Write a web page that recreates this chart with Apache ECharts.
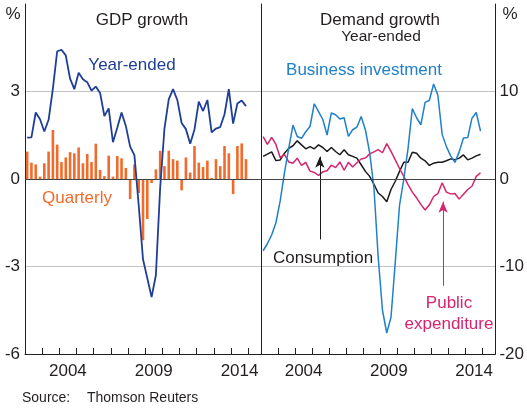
<!DOCTYPE html>
<html><head><meta charset="utf-8">
<script src="https://cdn.jsdelivr.net/npm/echarts@6/dist/echarts.min.js"></script>
<style>html,body{margin:0;padding:0;background:#fff}#c{width:527px;height:409px}</style>
</head><body><div id="c"></div>
<script>
// ---- data (quarterly, 2002Q1 .. 2014Q4) ----
const startYear = 2002;
const gdpYearEnded = [1.42,1.43,2.28,2.05,1.63,2.03,3.1,4.38,4.43,4.24,3.44,3.08,3.64,3.42,3.32,3.03,3.17,2.95,2.16,2.42,1.26,1.76,2.28,1.82,1.11,0.82,-0.9,-2.75,-3.4,-4.05,-3.3,-0.3,1.73,2.73,3.08,2.71,1.92,1.71,1.21,1.7,2.65,2.33,2.71,1.6,1.73,1.78,2.22,3.08,1.9,2.59,2.69,2.5];
const gdpQuarterly = [0.94,0.56,0.5,0.08,0.54,0.94,1.68,1.18,0.58,0.74,0.92,0.88,1.08,0.54,0.86,0.58,1.21,0.31,0.1,0.8,0.08,0.79,0.71,0.38,-0.69,0.5,-0.48,-2.1,-1.37,-0.14,0.33,0.97,0.44,0.97,0.68,0.63,-0.39,0.74,0.22,1.13,0.56,0.41,0.63,0.04,0.68,0.44,1.13,0.88,-0.52,1.13,1.22,0.68];
const consumption = [2.58,2.84,3.1,2.1,2.18,2.95,3.5,3.8,4.36,3.9,3.45,3.7,3.45,3.9,3.6,3.14,3.6,3.14,2.77,3.33,2.77,2.58,2.39,1.63,0.87,0.3,-0.6,-1.6,-2.0,-2.6,-1.2,-0.26,0.87,1.92,1.92,3.05,2.94,2.38,2.08,1.55,1.81,1.92,1.92,2.08,2.3,2.19,2.38,2.75,2.19,2.38,2.64,2.83];
const publicExpenditure = [4.85,3.95,4.75,3.95,2.45,2.8,1.95,1.8,2.38,1.55,1.9,0.9,0.75,0.4,0.82,0.95,1.58,1.3,1.95,1.0,1.9,1.38,1.85,2.28,2.4,2.87,3.1,3.35,3.0,4.05,3.15,2.18,1.2,0.3,-0.65,-1.5,-2.15,-2.9,-3.55,-2.95,-2.0,-1.66,-0.45,-1.5,-1.7,-1.65,-2.3,-1.75,-1.2,-0.83,0.3,0.72];
const businessInvestment = [-8.2,-7.4,-6.4,-5.0,-2.5,0.7,3.5,6.17,4.85,4.65,5.4,6.0,8.6,7.7,6.8,5.03,7.55,7.35,6.85,7.0,4.87,5.63,5.92,7.15,5.6,3.0,-1.0,-9.0,-15.0,-17.6,-15.8,-9.5,-3.0,0.0,3.5,8.05,7.0,6.2,8.75,9.0,10.85,9.57,5.1,3.7,2.65,1.9,3.1,4.68,4.73,6.95,7.6,5.48];
const yearTicks = [2002,2003,2004,2005,2006,2007,2008,2009,2010,2011,2012,2013,2014,2015];
const yearLabels = [2004,2009,2014];
const leftTicks = [-6,-3,0,3,6];
const rightTicks = [-20,-10,0,10,20];

// ---- build ----
const FONT = "'Liberation Sans', Arial, Helvetica, sans-serif";
const INK = '#231f20';
const quarterX = gdpYearEnded.map((_, i) => startYear + (i + 0.5) / 4);
const pairs = vals => vals.map((v, i) => [quarterX[i], v]);
const labelPos = yearLabels.map(y => y + 0.5);

function xAxisFor(g) {
  return {
    gridIndex: g, type: 'value', min: 2002, max: 2015.75,
    axisLine: {show: true, onZero: false, lineStyle: {color: INK, width: 1}},
    axisTick: {show: true, inside: true, length: 6, customValues: yearTicks, lineStyle: {color: INK}},
    axisLabel: {customValues: labelPos, formatter: v => String(Math.floor(v)), fontSize: 17, color: INK, margin: 9, fontFamily: FONT},
    splitLine: {show: false}
  };
}
const zeroLine = {silent: true, symbol: 'none', label: {show: false}, lineStyle: {color: '#444', width: 1, type: 'solid'}, data: [{yAxis: 0}], animation: false};

const chart = echarts.init(document.getElementById('c'), null, {renderer: 'canvas'});
chart.setOption({
  animation: false,
  backgroundColor: '#fff',
  textStyle: {fontFamily: FONT},
  grid: [
    {left: 25, top: 4, width: 236, height: 350},
    {left: 261, top: 4, width: 238, height: 350}
  ],
  xAxis: [xAxisFor(0), xAxisFor(1)],
  yAxis: [
    {gridIndex: 0, type: 'value', min: leftTicks[0], max: leftTicks[4], interval: 3, position: 'left',
     axisLine: {show: true, lineStyle: {color: INK}}, axisTick: {show: false},
     axisLabel: {formatter: v => v === leftTicks[4] ? '' : String(v), fontSize: 17, color: INK, margin: 5, fontFamily: FONT},
     splitLine: {show: true, showMinLine: false, showMaxLine: false, lineStyle: {color: '#c3c3c3', width: 1}}},
    {gridIndex: 0, type: 'value', min: leftTicks[0], max: leftTicks[4], position: 'right',
     axisLine: {show: true, lineStyle: {color: INK}}, axisTick: {show: false}, axisLabel: {show: false}, splitLine: {show: false}},
    {gridIndex: 1, type: 'value', min: rightTicks[0], max: rightTicks[4], interval: 10, position: 'right',
     axisLine: {show: true, lineStyle: {color: INK}}, axisTick: {show: false},
     axisLabel: {formatter: v => v === rightTicks[4] ? '' : String(v), fontSize: 17, color: INK, margin: 4, fontFamily: FONT},
     splitLine: {show: true, showMinLine: false, showMaxLine: false, lineStyle: {color: '#c3c3c3', width: 1}}}
  ],
  series: [
    {type: 'bar', xAxisIndex: 0, yAxisIndex: 0, data: pairs(gdpQuarterly), barWidth: 2.6,
     itemStyle: {color: '#f26b2a'}, silent: true},
    {type: 'line', xAxisIndex: 0, yAxisIndex: 0, data: pairs(gdpYearEnded), symbol: 'none',
     lineStyle: {color: '#1f3e97', width: 1.8}, itemStyle: {color: '#1f3e97'}, markLine: zeroLine, z: 3},
    {type: 'line', xAxisIndex: 1, yAxisIndex: 2, data: pairs(consumption), symbol: 'none',
     lineStyle: {color: '#1a1a1a', width: 1.5}, itemStyle: {color: '#1a1a1a'},
     markLine: {silent: true, symbol: ['none', 'arrow'], symbolSize: [7, 11], label: {show: false},
       lineStyle: {color: '#1a1a1a', width: 1, type: 'solid'},
       data: [[{coord: [2005.45, -6.9]}, {coord: [2005.45, 2.55]}]]}},
    {type: 'line', xAxisIndex: 1, yAxisIndex: 2, data: pairs(publicExpenditure), symbol: 'none',
     lineStyle: {color: '#d6246e', width: 1.5}, itemStyle: {color: '#d6246e'},
     markLine: {silent: true, symbol: ['none', 'arrow'], symbolSize: [7, 11], label: {show: false},
       lineStyle: {color: '#d6246e', width: 1, type: 'solid'},
       data: [[{coord: [2012.68, -12.2]}, {coord: [2012.68, -2.6]}]]}},
    {type: 'line', xAxisIndex: 1, yAxisIndex: 2, data: pairs(businessInvestment), symbol: 'none',
     lineStyle: {color: '#2080c8', width: 1.5}, itemStyle: {color: '#2080c8'}, markLine: zeroLine}
  ],
  graphic: [
    {type: 'text', x: 13, y: 14, style: {text: '%', font: '17px ' + FONT, fill: INK, align: 'center', verticalAlign: 'middle'}},
    {type: 'text', x: 510, y: 14, style: {text: '%', font: '17px ' + FONT, fill: INK, align: 'center', verticalAlign: 'middle'}},
    {type: 'text', x: 142, y: 20, style: {text: 'GDP growth', font: '17px ' + FONT, fill: INK, align: 'center', verticalAlign: 'middle'}},
    {type: 'text', x: 380, y: 20, style: {text: 'Demand growth', font: '17px ' + FONT, fill: INK, align: 'center', verticalAlign: 'middle'}},
    {type: 'text', x: 381, y: 37, style: {text: 'Year-ended', font: '15.5px ' + FONT, fill: INK, align: 'center', verticalAlign: 'middle'}},
    {type: 'text', x: 132, y: 65.5, style: {text: 'Year-ended', font: '17px ' + FONT, fill: '#1f3e97', align: 'center', verticalAlign: 'middle'}},
    {type: 'text', x: 77, y: 198, style: {text: 'Quarterly', font: '17px ' + FONT, fill: '#f26b2a', align: 'center', verticalAlign: 'middle'}},
    {type: 'text', x: 364, y: 70, style: {text: 'Business investment', font: '17px ' + FONT, fill: '#2080c8', align: 'center', verticalAlign: 'middle'}},
    {type: 'text', x: 323, y: 258.5, style: {text: 'Consumption', font: '17px ' + FONT, fill: INK, align: 'center', verticalAlign: 'middle'}},
    {type: 'text', x: 449, y: 303, style: {text: 'Public', font: '17px ' + FONT, fill: '#d6246e', align: 'center', verticalAlign: 'middle'}},
    {type: 'text', x: 449, y: 324, style: {text: 'expenditure', font: '17px ' + FONT, fill: '#d6246e', align: 'center', verticalAlign: 'middle'}},
    {type: 'text', x: 22, y: 398, style: {text: 'Source:', font: '14px ' + FONT, fill: INK, align: 'left', verticalAlign: 'middle'}},
    {type: 'text', x: 87, y: 398, style: {text: 'Thomson Reuters', font: '14px ' + FONT, fill: INK, align: 'left', verticalAlign: 'middle'}}
  ]
});
</script>
</body></html>
